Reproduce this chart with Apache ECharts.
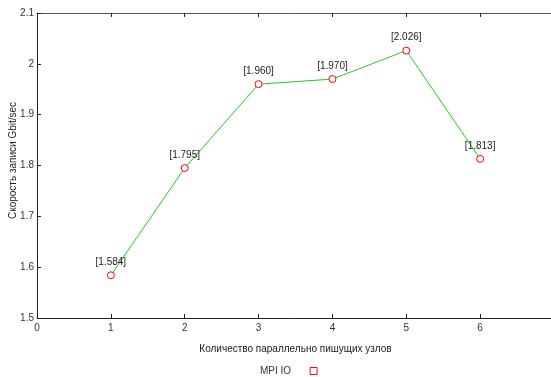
<!DOCTYPE html>
<html><head><meta charset="utf-8">
<script src="https://cdn.jsdelivr.net/npm/echarts@6/dist/echarts.min.js"></script>
<style>html,body{margin:0;padding:0;background:#fff}#c{width:551px;height:377px}</style>
</head><body><div id="c"></div>
<script>
const nodes = [1, 2, 3, 4, 5, 6];
const speed = [1.584, 1.795, 1.960, 1.970, 2.026, 1.813];
const seriesName = 'MPI IO';
const xTitle = 'Количество параллельно пишущих узлов';
const yTitle = 'Скорость записи Gbit/sec';

const chart = echarts.init(document.getElementById('c'), null, {renderer: 'canvas'});
const font = 'Liberation Sans, Arial, sans-serif';
const axCol = '#222';
chart.setOption({
  animation: false,
  backgroundColor: '#fff',
  textStyle: {fontFamily: font},
  grid: {left: 37, top: 13, right: -3, bottom: 59, containLabel: false, outerBoundsMode: 'none'},
  legend: {
    data: [{name: seriesName, icon: 'rect'}],
    left: 260, top: 366, padding: 0, align: 'right', itemWidth: 7, itemHeight: 7, itemGap: 0,
    textStyle: {fontSize: 10, color: '#333', fontFamily: font, padding: [0, 14, 0, 0]},
    itemStyle: {color: '#fff', borderColor: '#ff0000', borderWidth: 1}
  },
  xAxis: [{
    type: 'value', min: 0, max: 7, interval: 1, position: 'bottom',
    name: xTitle, nameLocation: 'middle', nameGap: 26, nameMoveOverlap: false,
    nameTextStyle: {fontSize: 10, color: '#222', fontFamily: font},
    axisLine: {lineStyle: {color: axCol, width: 1}},
    axisTick: {inside: true, length: 4, lineStyle: {color: axCol}},
    axisLabel: {fontSize: 10, color: '#333', margin: 5, showMaxLabel: false},
    splitLine: {show: false}
  }, {
    type: 'value', min: 0, max: 7, interval: 1, position: 'top',
    axisLine: {onZero: false, lineStyle: {color: '#555', width: 1}},
    axisTick: {inside: true, length: 4, lineStyle: {color: axCol}},
    axisLabel: {show: false}, splitLine: {show: false}
  }],
  yAxis: {
    type: 'value', min: 1.5, max: 2.1, interval: 0.1,
    name: yTitle, nameLocation: 'middle', nameGap: 19, nameMoveOverlap: false,
    nameTextStyle: {fontSize: 10, color: '#222', fontFamily: font, padding: [0, 0, 0, 10]},
    axisLine: {show: true, lineStyle: {color: axCol, width: 1}},
    axisTick: {show: true, inside: true, length: 4, lineStyle: {color: axCol}},
    axisLabel: {fontSize: 10, color: '#333', margin: 3,
      formatter: v => String(Math.round(v * 10) / 10)},
    splitLine: {show: false}
  },
  series: [{
    name: seriesName, type: 'line',
    data: nodes.map((n, i) => [n, speed[i]]),
    symbol: 'circle', symbolSize: 7,
    lineStyle: {color: '#22cc22', width: 1},
    itemStyle: {color: '#fff', borderColor: '#ff0000', borderWidth: 1},
    label: {show: true, position: 'top', distance: 4, fontSize: 10, color: '#222',
      formatter: p => '[' + p.value[1].toFixed(3) + ']'}
  }]
});
</script></body></html>
